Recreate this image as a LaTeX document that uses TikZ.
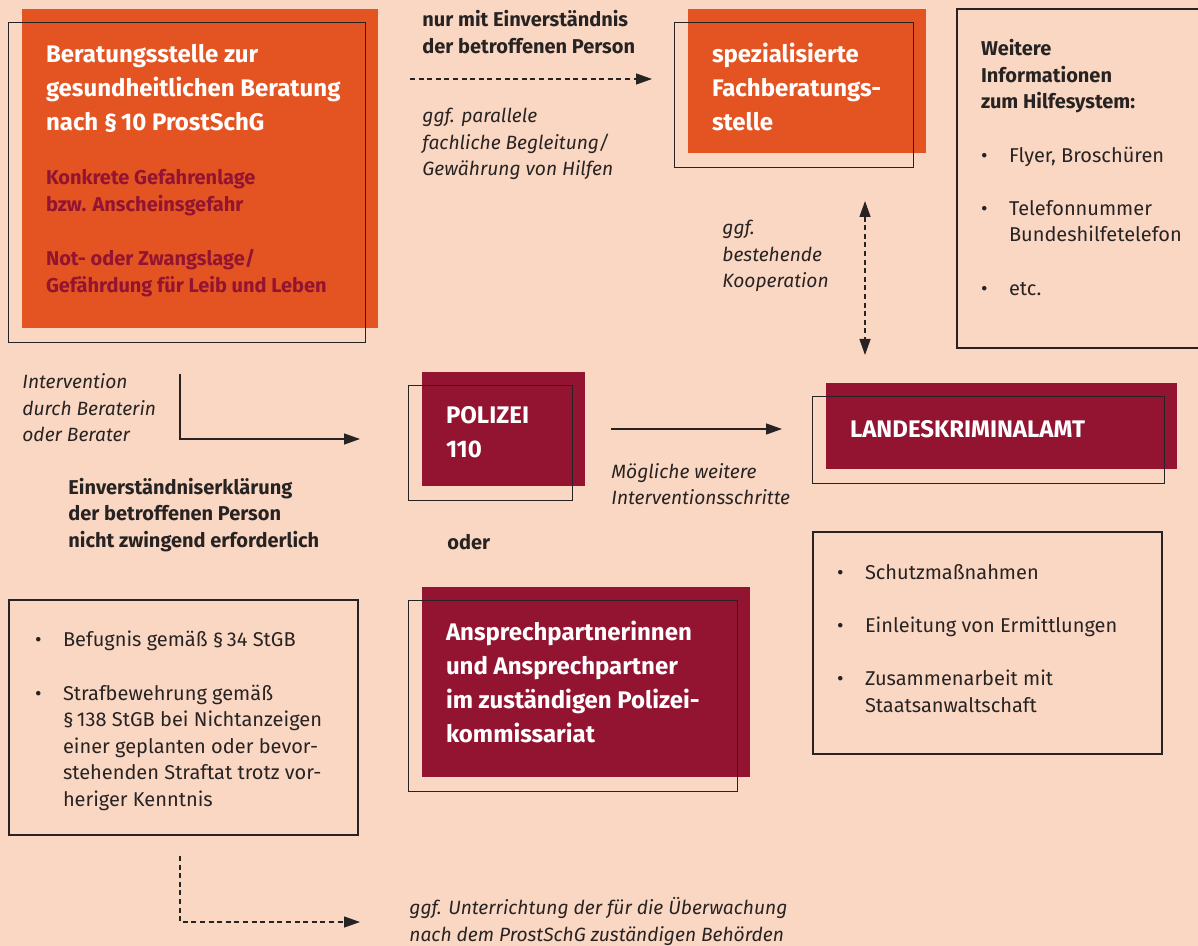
\documentclass[tikz,border=0pt]{standalone}
\usepackage{fontspec}
\setmainfont{Fira Sans}
\usepackage{xcolor}
\usepackage{tikz}
\usetikzlibrary{arrows.meta, positioning}

\definecolor{peach}{RGB}{250,215,195}
\definecolor{brorange}{RGB}{228,84,34}
\definecolor{wine}{RGB}{146,20,48}
\definecolor{ink}{RGB}{40,35,35}

\newcommand{\headfont}{\bfseries\fontsize{12}{17}\selectfont}
\newcommand{\smallfont}{\fontsize{10}{13.3}\selectfont}
\newcommand{\slantfont}{\itshape\fontsize{9.6}{13.3}\selectfont}
\newcommand{\bitem}[1]{\par\hangindent=14pt\hangafter=1\noindent\makebox[14pt][l]{\textbullet}{\let\\\newline#1}\par}
\newcommand{\itemgap}{\vspace{13.3pt}}
\newcommand{\padbelow}[1]{\par\vspace{#1}\hrule height 0pt}

\begin{document}
\begin{tikzpicture}[
    x=0.5pt, y=-0.5pt,
    fillbox/.style={anchor=center, inner xsep=12pt, inner ysep=0pt, align=flush left, text=white, font=\headfont},
    orangebox/.style={fillbox, fill=brorange},
    winebox/.style={fillbox, fill=wine},
    framebox/.style={draw=ink, line width=0.65pt},
    listbox/.style={framebox, anchor=center, align=flush left, text=ink, font=\smallfont, inner xsep=12pt, inner ysep=0pt},
    notetext/.style={anchor=west, inner sep=0pt, align=flush left, text=ink, font=\slantfont},
    boldtext/.style={notetext, font=\smallfont\bfseries},
    arrow/.style={-{Triangle[length=8pt,width=5.5pt]}, line width=0.65pt, draw=ink},
    dasharrow/.style={arrow, dash pattern=on 2.5pt off 1.8pt},
    dblarrow/.style={{Triangle[length=8pt,width=5.5pt]}-{Triangle[length=8pt,width=5.5pt]}, line width=0.65pt, draw=ink, dash pattern=on 2.5pt off 1.8pt}
]

\fill[peach] (0,0) rectangle (1198,946);
\useasboundingbox (0,0) rectangle (1198,946);

\node[orangebox, text width=154pt, minimum height=159.5pt] (beratung) at (200,168.5) {Beratungsstelle zur\\gesundheitlichen Beratung\\nach §\,10 ProstSchG\par
\vspace{13.5pt}\color{wine}\fontsize{10}{13.5}\selectfont Konkrete Gefahrenlage\\bzw. Anscheinsgefahr\par
\vspace{13.5pt}Not- oder Zwangslage/\\Gefährdung für Leib und Leben\padbelow{-2pt}};
\node[orangebox, text width=95pt, minimum height=72pt] (fach) at (807,81) {spezialisierte\\Fachberatungs-\\stelle\padbelow{-6pt}};
\node[winebox, text width=57.5pt, minimum height=57pt] (polizei) at (503.5,429) {POLIZEI\\110\padbelow{-3.5pt}};
\node[winebox, text width=151.5pt, minimum height=43pt] (lka) at (1001.5,426) {\raisebox{-1.5pt}[\height][\depth]{LANDESKRIMINALAMT}};
\node[winebox, text width=140pt, minimum height=95pt] (ansprech) at (586,682) {Ansprechpartnerinnen\\und Ansprechpartner\\im zuständigen Polizei-\\kommissariat\par};

\foreach \n in {beratung,fach,polizei,lka,ansprech}
    \draw[framebox] ([shift={(-13,14)}]\n.north west) rectangle ([shift={(-13,14)}]\n.south east);

\node[listbox, text width=102.5pt, minimum height=169.5pt] (hilfe) at (1083.5,178.5) {{\bfseries Weitere\\Informationen\\zum Hilfesystem:\par}
\itemgap\bitem{Flyer, Broschüren}
\itemgap\bitem{Telefonnummer\\Bundeshilfetelefon}
\itemgap\bitem{etc.}\padbelow{11pt}};
\node[listbox, inner xsep=13pt, text width=148.5pt, minimum height=117.5pt] (befugnis) at (183.5,717.5) {\bitem{Befugnis gemäß §\,34 StGB}
\itemgap\bitem{Strafbewehrung gemäß\\§\,138 StGB bei Nichtanzeigen\\einer geplanten oder bevor-\\stehenden Straftat trotz vor-\\heriger Kenntnis}\padbelow{2pt}};
\node[listbox, text width=150.5pt, minimum height=111pt] (schutz) at (987.5,643) {\bitem{Schutzmaßnahmen}
\itemgap\bitem{Einleitung von Ermittlungen}
\itemgap\bitem{Zusammenarbeit mit\\Staatsanwaltschaft}\padbelow{10.5pt}};

\node[boldtext] (consent) at (422,32) {nur mit Einverständnis\\der betroffenen Person};
\node[notetext] (parallel) at (422,144) {ggf. parallele\\fachliche Begleitung/\\Gewährung von Hilfen};
\node[notetext] (coop) at (722,256) {ggf.\\bestehende\\Kooperation};
\node[notetext] (interv) at (22,408) {Intervention\\durch Beraterin\\oder Berater};
\node[boldtext] (notrequired) at (68,515) {Einverständniserklärung\\der betroffenen Person\\nicht zwingend erforderlich};
\node[boldtext] (oder) at (447,542) {oder};
\node[notetext] (further) at (611,484) {Mögliche weitere\\Interventionsschritte};
\node[notetext] (inform) at (409,921.5) {ggf. Unterrichtung der für die Überwachung\\nach dem ProstSchG zuständigen Behörden};

\coordinate (consentA) at (410,79);
\coordinate (consentB) at (652,79);
\coordinate (intervA) at (180,374);
\coordinate (intervB) at (360,439);
\coordinate (furtherA) at (611,429);
\coordinate (furtherB) at (782,429);
\coordinate (coopA) at (865,201);
\coordinate (coopB) at (865,355);
\coordinate (informA) at (180,856);
\coordinate (informB) at (360,922);

\draw[dasharrow] (consentA) -- (consentB);
\draw[arrow] (intervA) |- (intervB);
\draw[arrow] (furtherA) -- (furtherB);
\draw[dblarrow] (coopA) -- (coopB);
\draw[dasharrow] (informA) |- (informB);

\end{tikzpicture}
\end{document}
